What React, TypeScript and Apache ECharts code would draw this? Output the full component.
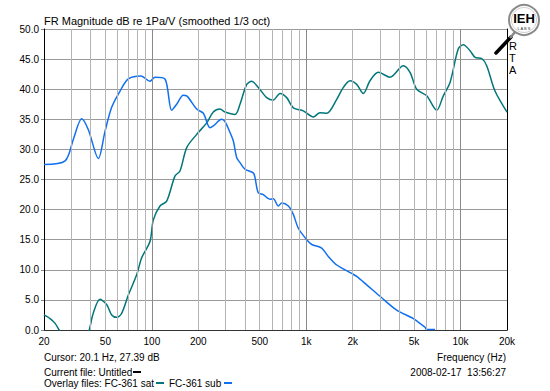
import React, { useEffect, useRef } from "react";
import * as echarts from "echarts";

// FC-361 sub (blue)
const subFreq = [20, 27.4, 31.0, 35.1, 38.7, 45.0, 49.7, 54.9, 62.2, 70.4, 85.0, 97.2, 104.8, 121.6, 134.4, 144.8, 159.8, 168.2, 195.2, 215.4, 238, 250, 283.4, 297.8, 320.8, 337.2, 354.6, 372.4, 401.4, 454, 466, 489, 527, 583, 612, 660, 694, 766, 825, 889, 1008, 1086, 1260, 1391, 1576, 1972, 2124, 2466, 3008, 3858, 4944, 5884, 6036, 6834];
const subDb = [27.5, 28.1, 31.7, 35.1, 33.3, 28.5, 33, 37, 39.7, 41.7, 42.2, 41.3, 42, 41.7, 36.5, 37.5, 39, 38.9, 36.7, 36, 33.6, 33.9, 35, 34.6, 32.8, 31.4, 28.6, 27.8, 26.7, 26.1, 25.3, 22.8, 22.5, 21.7, 21.8, 20.6, 21.1, 20.6, 19.2, 16.9, 15, 14.2, 13.6, 12.2, 10.8, 9.4, 8.9, 7.5, 5.6, 3.3, 1.9, 0.45, 0.1, 0.1];

// FC-361 sat (teal)
const satFreq = [20, 21.9, 23.6, 25.1, 30, 36, 39.3, 41.7, 46.1, 51.0, 54.9, 59.2, 63.8, 70.4, 79.8, 85.9, 97.2, 102.2, 112.9, 124.7, 141.3, 152.1, 168.2, 195.2, 226.6, 250, 276.2, 297.8, 345.8, 372.4, 411.6, 443.4, 489, 554.6, 612, 676.4, 747.6, 825, 957.6, 1112, 1228, 1358, 1576, 1740, 1922, 2124, 2344, 2590, 2932, 3492, 4257, 4705, 5200, 6036, 7008, 7732, 8546, 9672, 10424, 11518, 12410, 13714, 14772, 16724, 20000];
const satDb = [2.5, 1.9, 1.1, 0, -3, -3, 0, 2.8, 5.1, 4.2, 2.5, 2.1, 2.8, 5.8, 9.2, 12, 14.7, 18.3, 20.6, 21.4, 25.6, 26.4, 30.3, 32.5, 34.4, 36.2, 36.7, 36.2, 35.8, 37.5, 40.8, 41.3, 40.3, 38.6, 38.2, 39.3, 38.6, 36.9, 36.4, 35.4, 36.1, 36, 38.3, 40.3, 41.4, 40.8, 39.3, 41.4, 42.8, 42, 43.9, 42.8, 40, 38.9, 36.5, 38.9, 41.1, 46.7, 47.4, 46.4, 45.3, 45.1, 43.9, 39.7, 36.2];

const tickFreqs = [20, 50, 100, 200, 500, 1000, 2000, 5000, 10000, 20000];
const tickLabels = ["20", "50", "100", "200", "500", "1k", "2k", "5k", "10k", "20k"];
const decades = [10, 100, 1000, 10000];
const multipliers = [2, 3, 4, 5, 6, 7, 8, 9, 10];

const TITLE = "FR Magnitude dB re 1Pa/V (smoothed 1/3 oct)";
const SAT_COLOR = "#00767a";
const SUB_COLOR = "#1170f0";
const FONT = "'Liberation Sans', Arial, sans-serif";

export default function App() {
  const ref = useRef<HTMLDivElement>(null);
  useEffect(() => {
    if (!ref.current) return;
    const chart = echarts.init(ref.current, null, { renderer: "svg" });

    const gridLines: any[] = [];
    const seen = new Set<number>();
    decades.forEach((d) => {
      multipliers.forEach((m) => {
        const f = Math.round(d * m);
        if (f < 20 || f > 20000 || seen.has(f)) return;
        seen.add(f);
        const idx = tickFreqs.indexOf(f);
        const isEdge = f === 20 || f === 20000;
        const isDecade = f === 100 || f === 1000 || f === 10000;
        gridLines.push({
          xAxis: f,
          lineStyle: {
            color: isEdge ? "rgba(0,0,0,0)" : isDecade ? "#8a8a8a" : "#b4b4b4",
            width: 1,
            type: "solid",
          },
          label: {
            show: idx >= 0,
            position: "start",
            formatter: idx >= 0 ? tickLabels[idx] : "",
            color: "#000",
            fontFamily: FONT,
            fontSize: 10,
            distance: 6,
          },
        });
      });
    });

    const graphic: any[] = [
      { type: "text", left: 44, top: 15, style: { text: TITLE, font: `11px ${FONT}`, fill: "#000" } },
      { type: "text", left: 44, top: 352, style: { text: "Cursor: 20.1 Hz, 27.39 dB", font: `10px ${FONT}`, fill: "#000" } },
      { type: "text", left: 44, top: 367, style: { text: "Current file: Untitled", font: `10px ${FONT}`, fill: "#000" } },
      { type: "line", shape: { x1: 133, y1: 372, x2: 141, y2: 372 }, style: { stroke: "#000", lineWidth: 2 } },
      { type: "text", left: 44, top: 378, style: { text: "Overlay files: FC-361 sat", font: `10px ${FONT}`, fill: "#000" } },
      { type: "line", shape: { x1: 156, y1: 383, x2: 164, y2: 383 }, style: { stroke: SAT_COLOR, lineWidth: 2 } },
      { type: "text", left: 169, top: 378, style: { text: "FC-361 sub", font: `10px ${FONT}`, fill: "#000" } },
      { type: "line", shape: { x1: 224, y1: 383, x2: 232, y2: 383 }, style: { stroke: SUB_COLOR, lineWidth: 2 } },
      { type: "text", right: 44, top: 352, style: { text: "Frequency (Hz)", font: `10px ${FONT}`, fill: "#000" } },
      { type: "text", right: 44, top: 367, style: { text: "2008-02-17  13:56:27", font: `10px ${FONT}`, fill: "#000" } },
      // RTA label
      { type: "text", left: 509, top: 40, style: { text: "R", font: `11px ${FONT}`, fill: "#000" } },
      { type: "text", left: 509, top: 52, style: { text: "T", font: `11px ${FONT}`, fill: "#000" } },
      { type: "text", left: 509, top: 64, style: { text: "A", font: `11px ${FONT}`, fill: "#000" } },
      // logo
      { type: "line", shape: { x1: 496, y1: 53, x2: 511, y2: 37 }, style: { stroke: "#000", lineWidth: 3.5, lineCap: "round" } },
      { type: "line", shape: { x1: 510, y1: 38, x2: 515, y2: 32 }, style: { stroke: "#888", lineWidth: 2.5 } },
      { type: "circle", shape: { cx: 524, cy: 20, r: 15 }, style: { fill: "#fff", stroke: "#8a8a8a", lineWidth: 2 } },
      { type: "circle", shape: { cx: 524, cy: 20, r: 12.5 }, style: { fill: "#fff", stroke: "#d0d0d0", lineWidth: 1 } },
      { type: "text", x: 524, y: 18, style: { text: "IEH", font: `bold 13px ${FONT}`, fill: "#000", align: "center", verticalAlign: "middle" } },
      { type: "text", x: 524, y: 28, style: { text: "L A B S", font: `4px ${FONT}`, fill: "#333", align: "center", verticalAlign: "middle" } },
    ];

    chart.setOption({
      animation: false,
      backgroundColor: "#fff",
      grid: { left: 44, top: 29, width: 463, height: 301, containLabel: false },
      xAxis: {
        type: "log",
        logBase: 10,
        min: 20,
        max: 20000,
        axisLine: { show: true, onZero: false, lineStyle: { color: "#333", width: 1 } },
        axisTick: { show: false },
        axisLabel: { show: false },
        splitLine: { show: false },
        minorSplitLine: { show: false },
      },
      yAxis: [
        {
          type: "value",
          min: 0,
          max: 50,
          interval: 5,
          axisLine: { show: true, lineStyle: { color: "#000", width: 1 } },
          axisTick: { show: true, length: 3, lineStyle: { color: "#888" } },
          axisLabel: {
            formatter: (v: number) => v.toFixed(1),
            color: "#000",
            fontFamily: FONT,
            fontSize: 10,
            margin: 5,
          },
          splitLine: { show: true, lineStyle: { color: "#9a9a9a", width: 1 } },
        },
        {
          type: "value",
          min: 0,
          max: 50,
          interval: 5,
          position: "right",
          axisLine: { show: true, lineStyle: { color: "#000", width: 1 } },
          axisTick: { show: false },
          axisLabel: { show: false },
          splitLine: { show: false },
        },
      ],
      series: [
        {
          type: "line",
          z: 1,
          data: [],
          silent: true,
          markLine: {
            silent: true,
            symbol: ["none", "none"],
            animation: false,
            data: gridLines,
          },
        },
        {
          name: "FC-361 sat",
          type: "line",
          z: 3,
          data: satFreq.map((f, i) => [f, satDb[i]]),
          showSymbol: false,
          smooth: 0.3,
          clip: true,
          lineStyle: { color: SAT_COLOR, width: 1.5 },
        },
        {
          name: "FC-361 sub",
          type: "line",
          z: 4,
          data: subFreq.map((f, i) => [f, subDb[i]]),
          showSymbol: false,
          smooth: 0.3,
          clip: true,
          lineStyle: { color: SUB_COLOR, width: 1.5 },
        },
      ],
      graphic,
    });
    return () => chart.dispose();
  }, []);
  return (
    <div
      ref={ref}
      style={{ position: "fixed", left: 0, top: 0, width: 550, height: 391, background: "#fff" }}
    />
  );
}
